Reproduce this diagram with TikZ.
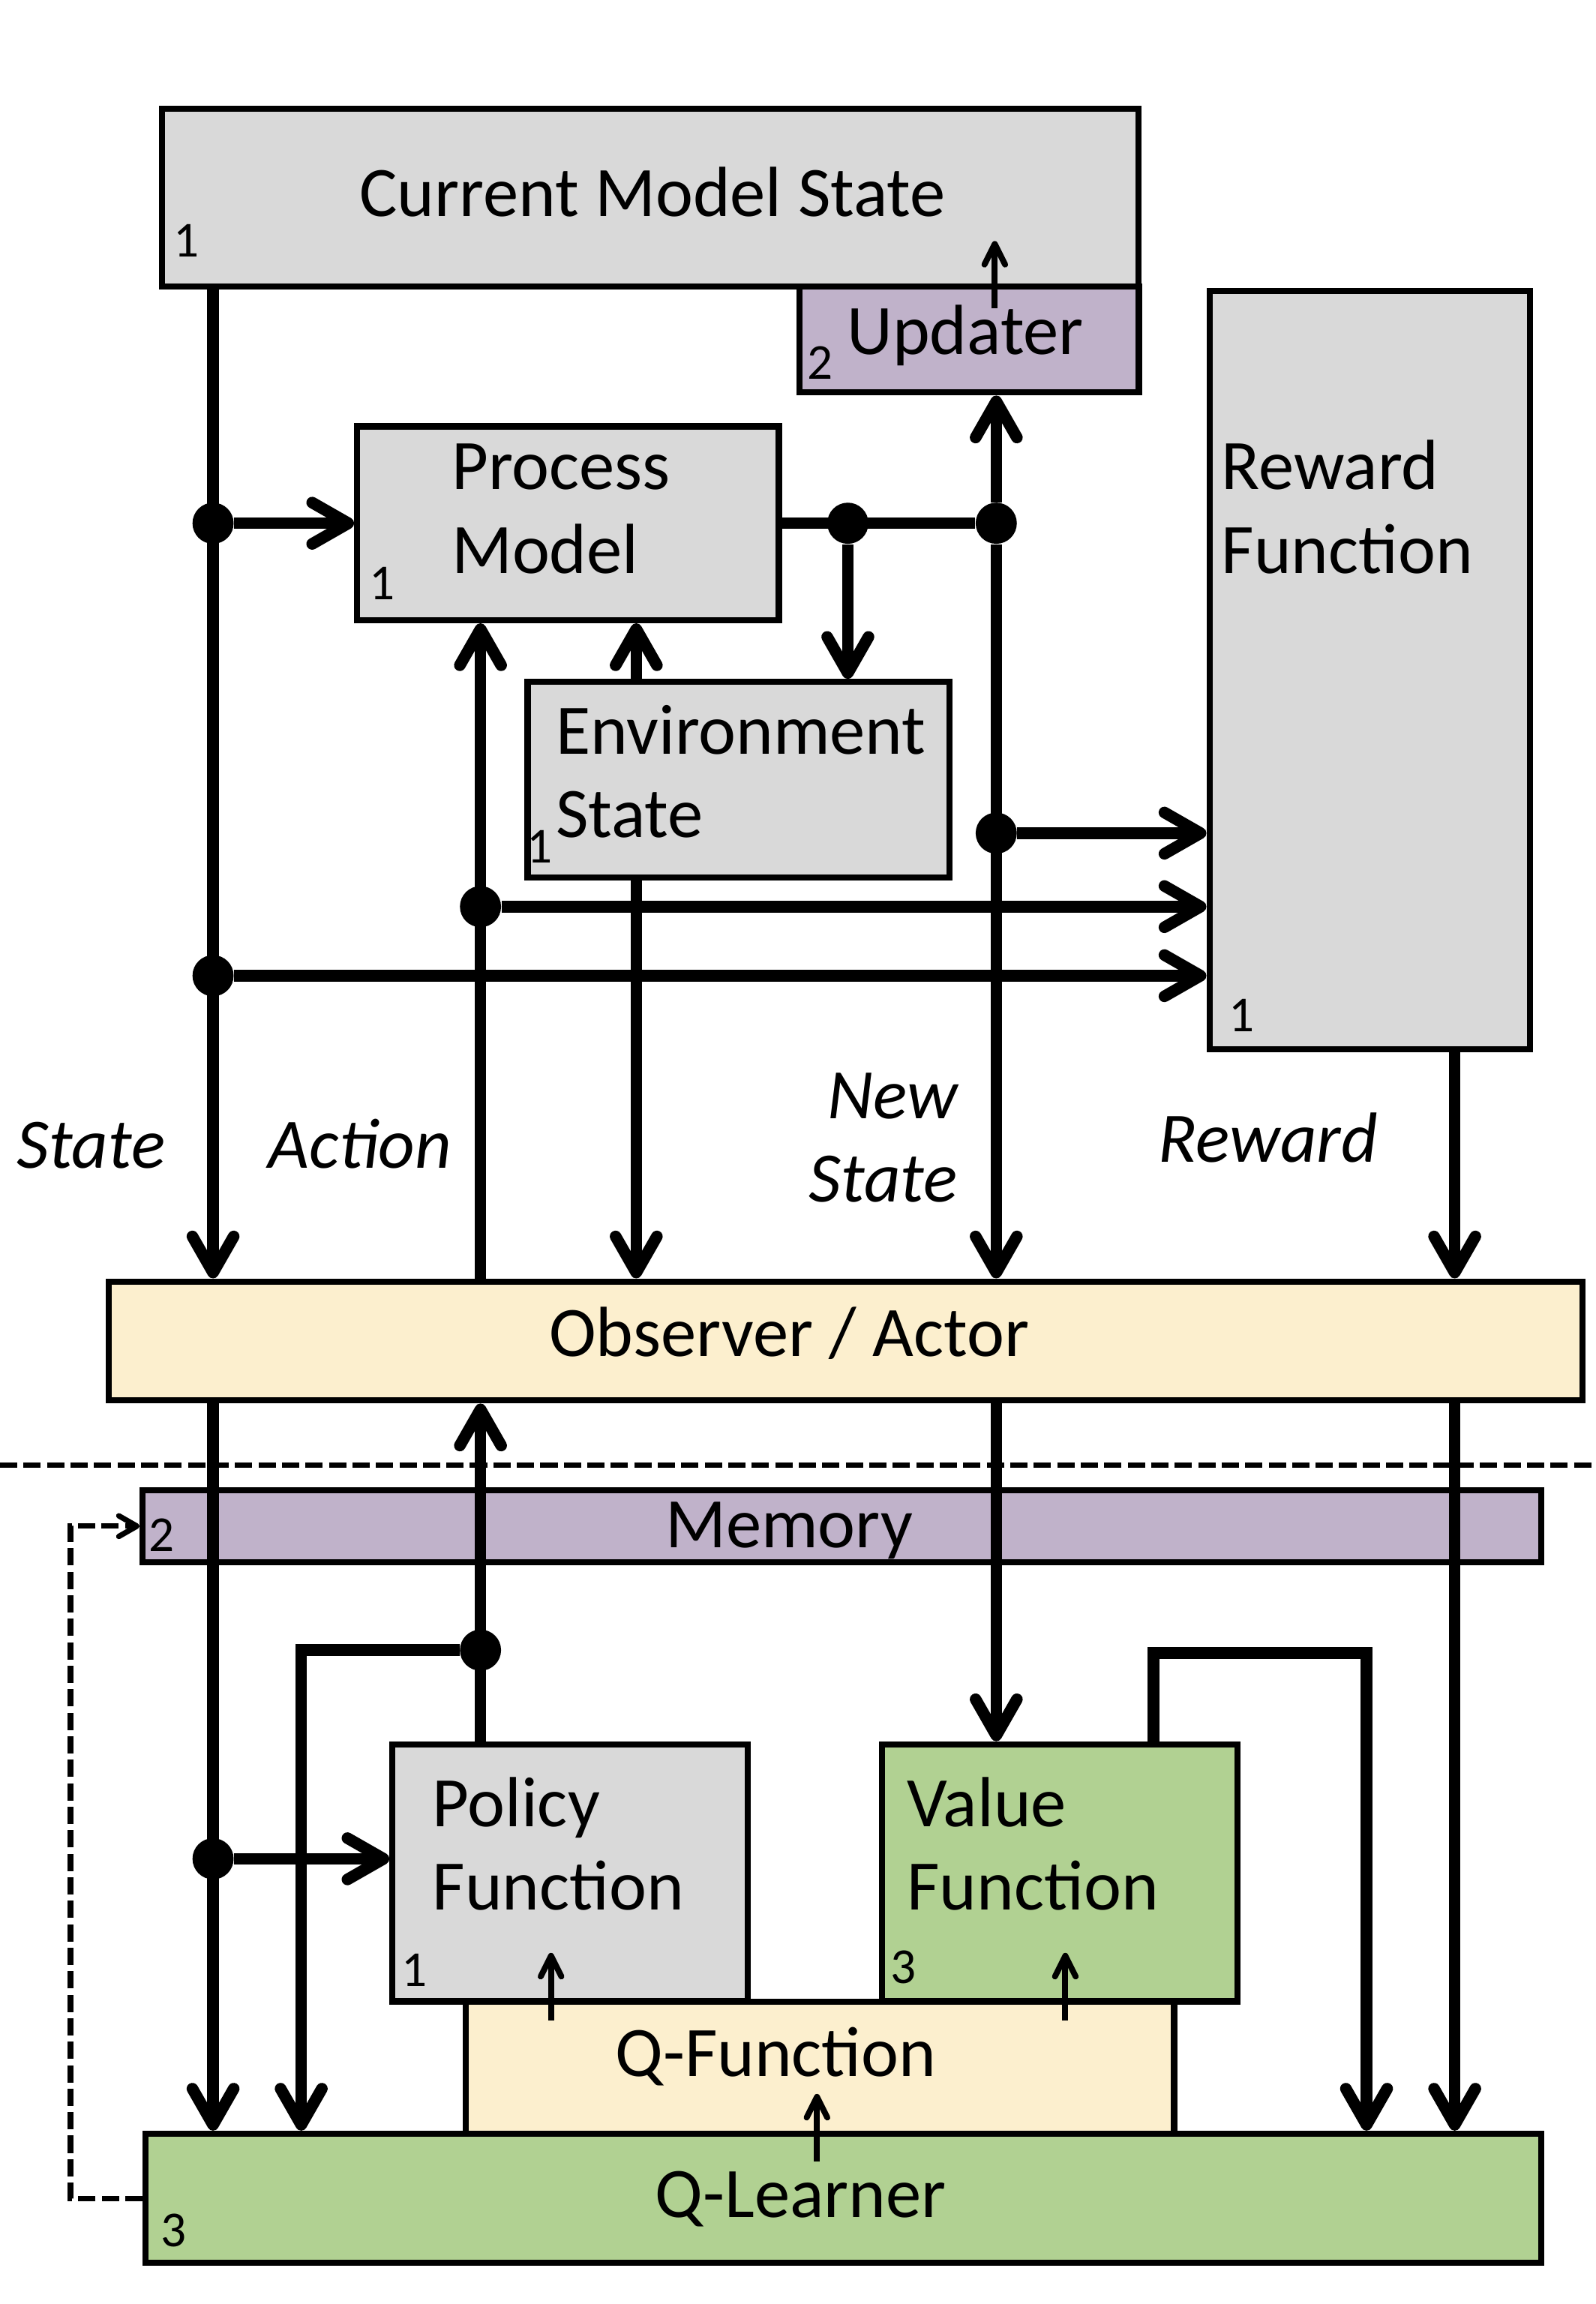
\documentclass[tikz,border=0pt]{standalone}
\usepackage{fontspec}
\setmainfont{Carlito}
\usetikzlibrary{arrows.meta}
\definecolor{boxgray}{RGB}{217,217,217}
\definecolor{boxpurple}{RGB}{192,178,202}
\definecolor{boxyellow}{RGB}{252,239,206}
\definecolor{boxgreen}{RGB}{177,209,146}
\tikzset{
  box/.style={draw, line width=2.4pt, inner sep=0pt, anchor=north west},
  txt/.style={font=\fontsize{27.5}{32.3}\selectfont, inner sep=0pt},
  lbl/.style={font=\fontsize{27.5}{32.3}\selectfont\itshape, inner sep=0pt},
  num/.style={font=\fontsize{19.5}{22}\selectfont, inner sep=0pt, anchor=base},
  wire/.style={line width=4.5pt},
  flow/.style={wire, -{Straight Barb[length=14pt,width=16pt,round]}},
  tinyflow/.style={line width=2.3pt, -{Straight Barb[length=8pt,width=8pt,round]}},
  dashflow/.style={line width=2.1pt, dash pattern=on 6.7pt off 2.4pt, -{Straight Barb[length=7pt,width=8pt,round]}},
  dot/.style={circle, fill, inner sep=0pt, minimum size=0.56cm},
}
\begin{document}
\begin{tikzpicture}[x=0.02cm, y=-0.02cm]
\useasboundingbox (0,0) rectangle (1085.7,1568);

% boxes
\node[box, fill=boxgray, minimum width=13.3cm, minimum height=2.42cm] (cms) at (108,72) {};
\node[box, fill=boxpurple, minimum width=4.62cm, minimum height=1.44cm] (upd) at (542,193) {};
\node[box, fill=boxgray, minimum width=5.74cm, minimum height=2.64cm] (pm) at (241,288) {};
\node[box, fill=boxgray, minimum width=5.74cm, minimum height=2.66cm] (env) at (357,462) {};
\node[box, fill=boxgray, minimum width=4.36cm, minimum height=10.32cm] (rf) at (821,196) {};
\node[box, fill=boxyellow, minimum width=20.06cm, minimum height=1.62cm] (obs) at (72,870) {};
\node[box, fill=boxpurple, minimum width=19.04cm, minimum height=0.98cm] (mem) at (95,1012) {};
\node[box, fill=boxgray, minimum width=4.84cm, minimum height=3.5cm] (pf) at (265,1185) {};
\node[box, fill=boxgreen, minimum width=4.84cm, minimum height=3.5cm] (vf) at (598,1185) {};
\node[box, fill=boxyellow, minimum width=9.64cm, minimum height=1.8cm] (qf) at (315,1360) {};
\node[box, fill=boxgreen, minimum width=19cm, minimum height=1.76cm] (ql) at (97,1450) {};

% line positions
\coordinate (xs) at (145,0);
\coordinate (xl) at (205,0);
\coordinate (xa) at (327,0);
\coordinate (xe) at (433,0);
\coordinate (xp) at (577,0);
\coordinate (xn) at (678,0);
\coordinate (xv) at (785,0);
\coordinate (xw) at (930,0);
\coordinate (xr) at (990,0);
\coordinate (yr1) at (0,567);
\coordinate (yr2) at (0,617);
\coordinate (yr3) at (0,664);
\coordinate (ya) at (0,1123);
\coordinate (yp) at (0,1265);
\coordinate (yv) at (0,1125);

% dots
\node[dot] (ds1) at (xs |- pm.west) {};
\node[dot] (ds2) at (xs |- yr3) {};
\node[dot] (ds3) at (xs |- yp) {};
\node[dot] (da1) at (xa |- yr2) {};
\node[dot] (da2) at (xa |- ya) {};
\node[dot] (dp1) at (xp |- pm.east) {};
\node[dot] (dn1) at (xn |- pm.east) {};
\node[dot] (dn2) at (xn |- yr1) {};

% upper part
\draw[flow] (cms.south -| xs) -- (obs.north -| xs);
\draw[flow] (ds1) -- (pm.west);
\draw[flow] (ds2) -- (ds2 -| rf.west);
\draw[flow] (obs.north -| xa) -- (pm.south -| xa);
\draw[flow] (da1) -- (da1 -| rf.west);
\draw[flow] (env.north -| xe) -- (pm.south -| xe);
\draw[flow] (env.south -| xe) -- (obs.north -| xe);
\draw[wire] (pm.east) -- (dn1);
\draw[flow] (dp1) -- (env.north -| xp);
\draw[flow] (dn1) -- (upd.south -| xn);
\draw[flow] (dn1) -- (obs.north -| xn);
\draw[flow] (dn2) -- (dn2 -| rf.west);
\draw[flow] (rf.south -| xr) -- (obs.north -| xr);

% lower part
\draw[flow] (obs.south -| xs) -- (ql.north -| xs);
\draw[flow] (ds3) -- (ds3 -| pf.west);
\draw[flow] (pf.north -| xa) -- (obs.south -| xa);
\draw[flow] (da2) -| (ql.north -| xl);
\draw[flow] (obs.south -| xn) -- (vf.north -| xn);
\draw[flow] (vf.north -| xv) |- (xw |- yv) -- (ql.north -| xw);
\draw[flow] (obs.south -| xr) -- (ql.north -| xr);
\draw[dashflow] (ql.west) -- ++(-49,0) |- (mem.west);

% small arrows
\coordinate (ub) at (677,210);
\coordinate (ut) at (677,164);
\coordinate (pb) at (375,1375);
\coordinate (pt) at (375,1329);
\coordinate (vb) at (725,1375);
\coordinate (vt) at (725,1329);
\coordinate (qb) at (556,1471);
\coordinate (qt) at (556,1425);
\draw[tinyflow] (ub) -- (ut);
\draw[tinyflow] (pb) -- (pt);
\draw[tinyflow] (vb) -- (vt);
\draw[tinyflow] (qb) -- (qt);

% separator
\draw[line width=2pt, dash pattern=on 6.7pt off 2.4pt] (0,997) -- (1085.7,997);

% texts
\node[txt, anchor=base] (cmst) at (444,147) {Current Model State};
\node[num] (cmsn) at (127,175) {1};
\node[txt, anchor=base] (updt) at (657,241) {Updater};
\node[num] (updn) at (558,258) {2};
\node[txt, align=left, anchor=base west] (pmt) at (307,390) {Process\\Model};
\node[num] (pmn) at (260,408) {1};
\node[txt, align=left, anchor=base west] (envt) at (378,570) {Environment\\State};
\node[num] (envn) at (367,587) {1};
\node[txt, align=left, anchor=base west] (rft) at (831,390) {Reward\\Function};
\node[num] (rfn) at (845,702) {1};
\node[lbl, anchor=base] (lstate) at (62,795) {State};
\node[lbl, anchor=base] (laction) at (245,795) {Action};
\node[lbl, align=right, anchor=base east] (lnew) at (652,818) {New\\State};
\node[lbl, anchor=base] (lreward) at (863,791) {Reward};
\node[txt, anchor=base] (obst) at (537,923) {Observer / Actor};
\node[txt, anchor=base] (memt) at (537,1053) {Memory};
\node[num] (memn) at (110,1056) {2};
\node[txt, align=left, anchor=base west] (pft) at (294,1300) {Policy\\Function};
\node[num] (pfn) at (282,1352) {1};
\node[txt, align=left, anchor=base west] (vft) at (617,1300) {Value\\Function};
\node[num] (vfn) at (615,1350) {3};
\node[txt, anchor=base] (qft) at (528,1413) {Q-Function};
\node[txt, anchor=base] (qlt) at (545,1509) {Q-Learner};
\node[num] (qln) at (118,1529) {3};
\end{tikzpicture}
\end{document}
